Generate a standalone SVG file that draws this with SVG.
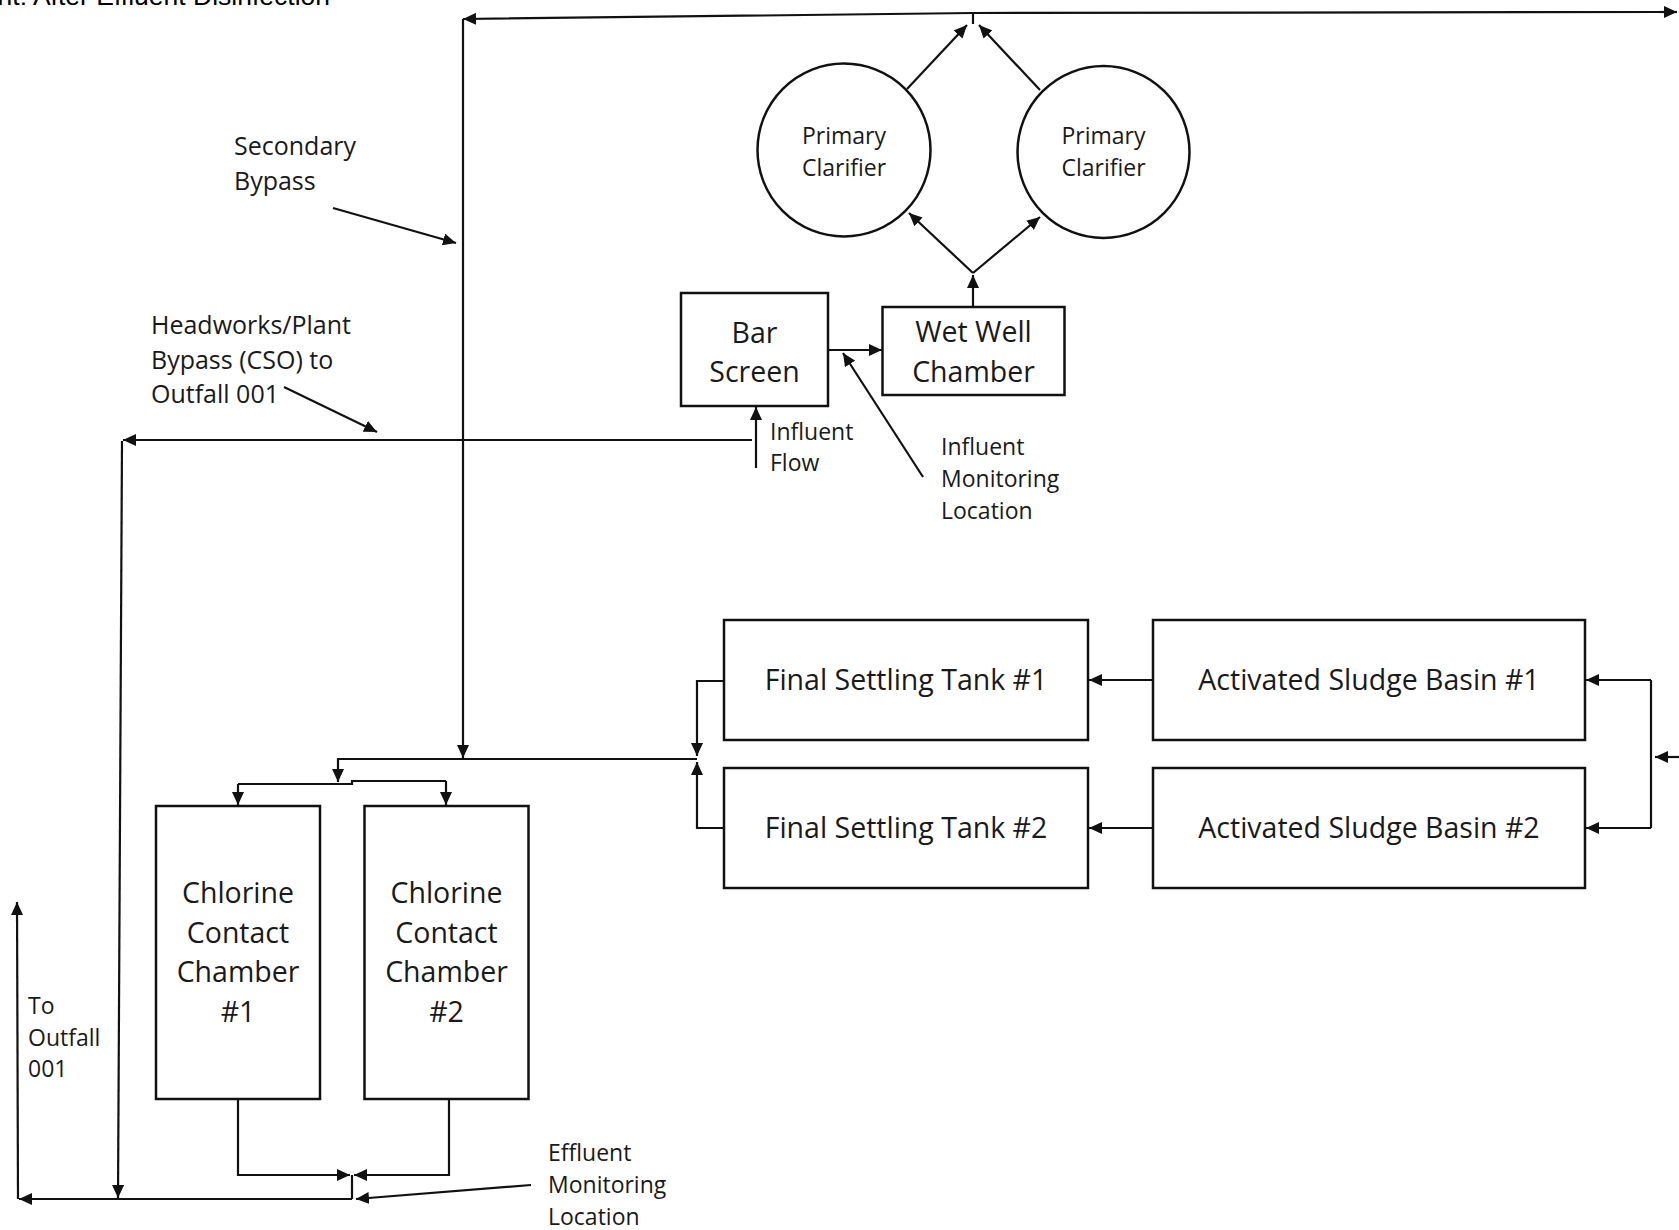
<svg xmlns="http://www.w3.org/2000/svg" width="1679" height="1230" viewBox="0 0 1679 1230">
<defs>
<marker id="ah" markerUnits="userSpaceOnUse" markerWidth="14" markerHeight="12" refX="13" refY="6" orient="auto-start-reverse">
<path d="M0,0 L13,6 L0,12 z" fill="#111"/>
</marker>
</defs>
<style>
.bg{fill:#fff}
.box{fill:#fff;stroke:#111;stroke-width:2.5}
.ln{fill:none;stroke:#111;stroke-width:2.2}
.ar{fill:none;stroke:#111;stroke-width:2.2;marker-end:url(#ah)}
.lbl{font-family:"Open Sans","Noto Sans","DejaVu Sans",sans-serif;font-size:28.5px;fill:#1a1a1a;text-anchor:middle}
.sm{font-family:"Open Sans","Noto Sans","DejaVu Sans",sans-serif;font-size:23px;fill:#1a1a1a}
.md{font-family:"Open Sans","Noto Sans","DejaVu Sans",sans-serif;font-size:25px;fill:#1a1a1a}
.title{font-family:"Liberation Sans",Arial,sans-serif;font-size:26.5px;fill:#000;text-anchor:end}
</style>
<rect class="bg" x="0" y="0" width="1679" height="1230"/>
<text class="title" x="330" y="5">nt: After Effluent Disinfection</text>

<g id="connectors">
<path class="ln" d="M463,19 L973,13 L1663,12" marker-start="url(#ah)"/>
<path class="ar" d="M1660,12 L1677,12"/>
<path class="ln" d="M973,13 L973,24"/>
<path class="ar" d="M907,89 L967,25"/>
<path class="ar" d="M1040,90 L979,25"/>
<path class="ar" d="M463,19 L463,758"/>
<path class="ar" d="M333,208 L456,243"/>
<path class="ar" d="M973,307 L973,275"/>
<path class="ar" d="M973,273 L909,213"/>
<path class="ar" d="M973,273 L1040,217"/>
<path class="ar" d="M829,350 L882,350"/>
<path class="ar" d="M923,477 L843,353"/>
<path class="ar" d="M756,468 L756,407"/>
<path class="ar" d="M752,440 L123,440"/>
<path class="ar" d="M122,441 L118,1198"/>
<path class="ar" d="M284,387 L377,432"/>
<path class="ar" d="M1153,680 L1089,680"/>
<path class="ar" d="M1153,828 L1089,828"/>
<path class="ar" d="M1679,757 L1655,757"/>
<path class="ln" d="M1651,680 L1651,828"/>
<path class="ar" d="M1651,680 L1586,680"/>
<path class="ar" d="M1651,828 L1586,828"/>
<path class="ar" d="M724,681 L697,681 L697,756"/>
<path class="ar" d="M724,828 L697,828 L697,762"/>
<path class="ar" d="M697,759 L338,759 L338,782"/>
<path class="ln" d="M238,784 L352,784 L352,781 L446,781"/>
<path class="ar" d="M238,784 L238,805"/>
<path class="ar" d="M446,781 L446,805"/>
<path class="ar" d="M238,1099 L238,1175 L350,1175"/>
<path class="ar" d="M449,1099 L449,1175 L354,1175"/>
<path class="ln" d="M352,1175 L352,1199"/>
<path class="ar" d="M352,1199 L19,1199"/>
<path class="ar" d="M18,1199 L17,902"/>
<path class="ar" d="M531,1185 L356,1199"/>
</g>

<g id="label-secondary-bypass">
<text class="md" x="234" y="155">Secondary</text>
<text class="md" x="234" y="190">Bypass</text>
</g>
<g id="label-headworks">
<text class="md" x="151" y="334">Headworks/Plant</text>
<text class="md" x="151" y="369">Bypass (CSO) to</text>
<text class="md" x="151" y="403">Outfall 001</text>
</g>
<g id="label-influent-flow">
<text class="sm" x="770" y="440">Influent</text>
<text class="sm" x="770" y="471">Flow</text>
</g>
<g id="label-influent-monitoring">
<text class="sm" x="941" y="455">Influent</text>
<text class="sm" x="941" y="487">Monitoring</text>
<text class="sm" x="941" y="519">Location</text>
</g>
<g id="label-to-outfall">
<text class="sm" x="28" y="1014">To</text>
<text class="sm" x="28" y="1046">Outfall</text>
<text class="sm" x="28" y="1077">001</text>
</g>
<g id="label-effluent-monitoring">
<text class="sm" x="548" y="1161">Effluent</text>
<text class="sm" x="548" y="1193">Monitoring</text>
<text class="sm" x="548" y="1225">Location</text>
</g>

<g id="primary-clarifier-1">
<circle class="box" cx="844" cy="150" r="86.5"/>
<text class="sm" x="844" y="144" text-anchor="middle">Primary</text>
<text class="sm" x="844" y="176" text-anchor="middle">Clarifier</text>
</g>
<g id="primary-clarifier-2">
<circle class="box" cx="1103.5" cy="152" r="86"/>
<text class="sm" x="1103.5" y="144" text-anchor="middle">Primary</text>
<text class="sm" x="1103.5" y="176" text-anchor="middle">Clarifier</text>
</g>
<g id="bar-screen">
<rect class="box" x="681" y="293" width="147" height="113"/>
<text class="lbl" x="754.5" y="343">Bar</text>
<text class="lbl" x="754.5" y="382">Screen</text>
</g>
<g id="wet-well-chamber">
<rect class="box" x="882.5" y="307" width="182" height="88"/>
<text class="lbl" x="973.5" y="342">Wet Well</text>
<text class="lbl" x="973.5" y="382">Chamber</text>
</g>
<g id="final-settling-tank-1">
<rect class="box" x="724" y="620" width="364" height="120"/>
<text class="lbl" x="906" y="690">Final Settling Tank #1</text>
</g>
<g id="final-settling-tank-2">
<rect class="box" x="724" y="768" width="364" height="120"/>
<text class="lbl" x="906" y="838">Final Settling Tank #2</text>
</g>
<g id="activated-sludge-basin-1">
<rect class="box" x="1153" y="620" width="432" height="120"/>
<text class="lbl" x="1369" y="690">Activated Sludge Basin #1</text>
</g>
<g id="activated-sludge-basin-2">
<rect class="box" x="1153" y="768" width="432" height="120"/>
<text class="lbl" x="1369" y="838">Activated Sludge Basin #2</text>
</g>
<g id="chlorine-contact-chamber-1">
<rect class="box" x="156" y="806" width="164" height="293"/>
<text class="lbl" x="238" y="903">Chlorine</text>
<text class="lbl" x="238" y="943">Contact</text>
<text class="lbl" x="238" y="982">Chamber</text>
<text class="lbl" x="238" y="1022">#1</text>
</g>
<g id="chlorine-contact-chamber-2">
<rect class="box" x="364.5" y="806" width="164" height="293"/>
<text class="lbl" x="446.5" y="903">Chlorine</text>
<text class="lbl" x="446.5" y="943">Contact</text>
<text class="lbl" x="446.5" y="982">Chamber</text>
<text class="lbl" x="446.5" y="1022">#2</text>
</g>
</svg>
